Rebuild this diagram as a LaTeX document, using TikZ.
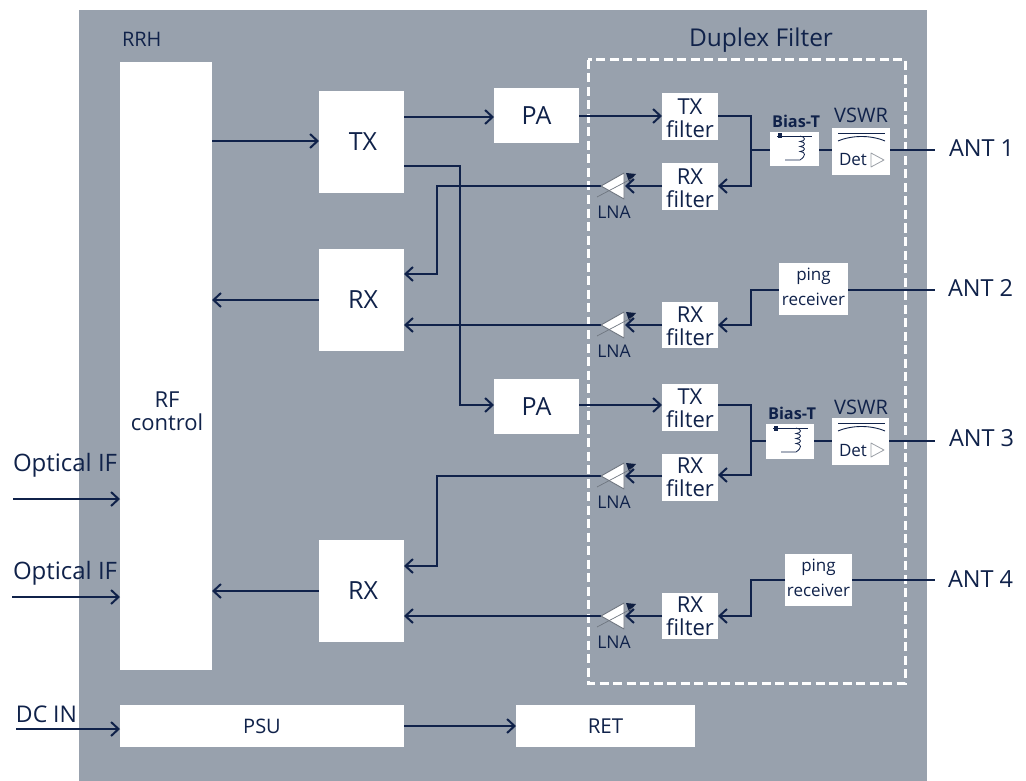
\documentclass[tikz,border=0pt]{standalone}
\usepackage{fontspec}
\setmainfont{Open Sans}
\usetikzlibrary{arrows.meta,calc}
\definecolor{bg}{HTML}{98A1AD}
\definecolor{ink}{HTML}{10224A}
\definecolor{lnagray}{HTML}{6F7680}
\tikzset{
  boxnode/.style={fill=white,draw=none,inner sep=0pt,outer sep=0pt,align=center,text=ink},
  lab/.style={text=ink,inner sep=0pt,outer sep=0pt,align=center},
  conn/.style={draw=ink,line width=2pt,line join=miter},
  arr/.style={conn,-{Straight Barb[length=7.5pt,width=14pt,line width=2pt]}},
  big/.style={font=\fontsize{25}{28}\selectfont},
  mid/.style={font=\fontsize{22}{23}\selectfont},
  sml/.style={font=\fontsize{17.5}{20}\selectfont},
  ping/.style={font=\fontsize{17}{25}\selectfont},
  ext/.style={lab,anchor=west,font=\fontsize{23.5}{26}\selectfont},
  lnabody/.style={fill=white,draw=lnagray,line width=0.9pt,line join=round},
}
\newcommand{\bx}[7][]{\node[boxnode,#1,minimum width={(#4-#2)*1pt},minimum height={(#5-#3)*1pt}] (#6) at ({(#2+#4)/2},{(#3+#5)/2}) {#7};}
% LNA symbol: tip at (x,y)
\newcommand{\lna}[3]{%
  \node[lab,sml] (#3) at ({#1+13},{#2+26}) {LNA};
  \fill[ink!85!black] ({#1+25},{#2-13}) -- ({#1+35},{#2-12}) -- ({#1+28},{#2-4}) -- cycle;
  \draw[lnabody] (#1,#2) -- ({#1+23},{#2-13}) -- ({#1+23},{#2+13}) -- cycle;
  \draw[lnagray,line width=0.7pt] ({#1-4},{#2+11}) -- ({#1+32},{#2-8});
}
% Bias-T symbol: box top-left (x,y)
\newcommand{\biast}[2]{%
  \draw[ink,line width=0.9pt] ({#1+7},{#2+4}) -- ({#1+42},{#2+4});
  \fill[ink] ({#1+8},{#2+1.5}) rectangle ({#1+12},{#2+6.5});
  \draw[ink,line width=0.8pt] ({#1+30},{#2+4}) .. controls ({#1+36},{#2+5}) and ({#1+36},{#2+9}) .. ({#1+30},{#2+9.5})
     .. controls ({#1+36},{#2+10}) and ({#1+36},{#2+14}) .. ({#1+30},{#2+14.5})
     .. controls ({#1+36},{#2+15}) and ({#1+36},{#2+19}) .. ({#1+30},{#2+19.5})
     .. controls ({#1+36},{#2+20}) and ({#1+36},{#2+24}) .. ({#1+30},{#2+28}) -- ({#1+15},{#2+28});
}
% VSWR symbol: box top-left (x,y)
\newcommand{\vswr}[2]{%
  \draw[ink,line width=0.9pt] ({#1+6},{#2+5.5}) -- ({#1+53},{#2+5.5});
  \draw[ink,line width=0.9pt] ({#1+6},{#2+13}) .. controls ({#1+20},{#2+7}) and ({#1+39},{#2+7}) .. ({#1+53},{#2+13});
  \draw[lnagray!70!white,line width=0.8pt,line join=round] ({#1+39},{#2+25}) -- ({#1+52},{#2+32}) -- ({#1+39},{#2+39}) -- cycle;
}
\begin{document}
\begin{tikzpicture}[x=1pt,y=-1pt]
\useasboundingbox (0,0) rectangle (1026,781);
\fill[white] (0,0) rectangle (1026,781);
\fill[bg] (79,10) rectangle (927,781);

\draw[white,line width=3pt,dash pattern=on 9pt off 4.5pt] (588,60) rectangle (905,683);

\node[lab,font=\fontsize{20}{23}\selectfont,anchor=west] (rrh) at (122,39) {RRH};
\node[lab,font=\fontsize{24.5}{28}\selectfont] (dup) at (761,40) {Duplex Filter};

\bx{120}{62}{212}{670}{rf}{}
\node[lab,mid] (rflab) at (167,411) {RF\\control};
\bx[big]{319}{91}{404}{193}{tx}{\hspace*{3pt}TX}
\bx[big]{319}{249}{404}{351}{rxa}{\hspace*{3pt}RX}
\bx[big]{319}{540}{404}{642}{rxb}{\hspace*{3pt}RX}
\bx[big]{494}{88}{579}{143}{paa}{PA}
\bx[big]{494}{379}{579}{434}{pab}{PA}

\bx{662}{93}{718}{140}{txfa}{}
\bx{662}{163}{718}{210}{rxfa}{}
\bx{662}{302}{718}{348}{rxfb}{}
\bx{662}{384}{718}{431}{txfb}{}
\bx{662}{454}{718}{501}{rxfc}{}
\bx{662}{593}{718}{639}{rxfd}{}
\node[lab,mid] (txfal) at (690,118.5) {TX\\filter};
\node[lab,mid] (rxfal) at (690,188) {RX\\filter};
\node[lab,mid] (rxfbl) at (690,326) {RX\\filter};
\node[lab,mid] (txfbl) at (690,408.5) {TX\\filter};
\node[lab,mid] (rxfcl) at (690,477) {RX\\filter};
\node[lab,mid] (rxfdl) at (690,616) {RX\\filter};

\bx{770}{132}{819}{166}{bta}{}
\bx{766}{424}{814}{459}{btb}{}
\bx{832}{128}{890}{175}{vsa}{}
\bx{832}{418}{889}{465}{vsb}{}
\bx{779}{263}{848}{315}{pra}{}
\bx{785}{554}{852}{606}{prb}{}
\node[lab,ping] (pral) at (813.5,287) {ping\\receiver};
\node[lab,ping] (prbl) at (818.5,578) {ping\\receiver};

\bx[font=\fontsize{20}{24}\selectfont]{120}{705}{404}{747}{psu}{PSU}
\bx[font=\fontsize{20.5}{24}\selectfont]{516}{705}{695}{747}{ret}{RET}

\node[lab,font=\bfseries\fontsize{16.3}{19}\selectfont] (btla) at (796,121) {Bias-T};
\node[lab,font=\bfseries\fontsize{16.3}{19}\selectfont] (btlb) at (792,413) {Bias-T};
\node[lab,font=\fontsize{20}{23}\selectfont] (vsla) at (861,115) {VSWR};
\node[lab,font=\fontsize{20}{23}\selectfont] (vslb) at (861,407) {VSWR};
\node[lab,font=\fontsize{17}{20}\selectfont] (dta) at (853,160) {Det};
\node[lab,font=\fontsize{17}{20}\selectfont] (dtb) at (853,451) {Det};
\biast{770}{132}
\biast{766}{424}
\vswr{832}{128}
\vswr{832}{418}

\node[ext] (anta) at (949,148) {ANT 1};
\node[ext] (antb) at (948,288) {ANT 2};
\node[ext] (antc) at (949,438) {ANT 3};
\node[ext] (antd) at (948,579) {ANT 4};
\node[ext,font=\fontsize{24}{27}\selectfont] (opta) at (13,465) {Optical IF};
\node[ext,font=\fontsize{24}{27}\selectfont] (optb) at (13,573) {Optical IF};
\node[ext,font=\fontsize{23}{26}\selectfont] (dcin) at (16,714) {DC IN};

\coordinate (optsa) at (13,499);
\coordinate (optsb) at (12,597);
\coordinate (dcs) at (16,729);
\coordinate (enda) at (935,150);
\coordinate (endb) at (935,290);
\coordinate (endc) at (935,441);
\coordinate (endd) at (935,580);

% main signal path
\draw[arr] (rf.east |- 0,141) -- (tx.west |- 0,141);
\draw[arr] (tx.east |- 0,117) -- (paa.west |- 0,117);
\draw[arr] (paa.east |- 0,116) -- (txfa.west |- 0,116);
\draw[arr] (tx.east |- 0,166) -- (460,166) -- (460,405) -- (pab.west |- 0,405);
\draw[arr] (pab.east |- 0,405) -- (txfb.west |- 0,405);
\draw[arr] (rxa.west |- 0,300) -- (rf.east |- 0,300);
\draw[arr] (rxb.west |- 0,591) -- (rf.east |- 0,591);
\draw[arr] (psu.east |- 0,726) -- (ret.west |- 0,726);
\draw[arr] (optsa) -- (rf.west |- optsa);
\draw[arr] (optsb) -- (rf.west |- optsb);
\draw[arr] (dcs) -- (psu.west |- dcs);

% duplexer branches
\draw[arr] (txfa.east |- 0,116) -- (751,116) -- (751,186) -- (rxfa.east |- 0,186);
\draw[conn] (751,150) -- (bta.west |- 0,150);
\draw[conn] (bta.east |- 0,150) -- (vsa.west |- 0,150);
\draw[conn] (vsa.east |- 0,150) -- (enda);

\draw[arr] (txfb.east |- 0,405) -- (751,405) -- (751,475) -- (rxfc.east |- 0,475);
\draw[conn] (751,441) -- (btb.west |- 0,441);
\draw[conn] (btb.east |- 0,441) -- (vsb.west |- 0,441);
\draw[conn] (vsb.east |- 0,441) -- (endc);

\draw[arr] (pra.west |- 0,290) -- (751,290) -- (751,325) -- (rxfb.east |- 0,325);
\draw[conn] (pra.east |- 0,290) -- (endb);
\draw[arr] (prb.west |- 0,580) -- (751,580) -- (751,616) -- (rxfd.east |- 0,616);
\draw[conn] (prb.east |- 0,580) -- (endd);

% LNA outputs towards RX
\draw[arr] (601,186) -- (437,186) -- (437,274) -- (rxa.east |- 0,274);
\draw[arr] (601,325) -- (rxa.east |- 0,325);
\draw[arr] (601,476) -- (437,476) -- (437,566) -- (rxb.east |- 0,566);
\draw[arr] (601,616) -- (rxb.east |- 0,616);

% LNAs
\lna{601}{186}{lnaa}
\lna{601}{325}{lnab}
\lna{601}{476}{lnac}
\lna{601}{616}{lnad}
\draw[arr] (rxfa.west |- 0,186) -- (625,186);
\draw[arr] (rxfb.west |- 0,325) -- (625,325);
\draw[arr] (rxfc.west |- 0,476) -- (625,476);
\draw[arr] (rxfd.west |- 0,616) -- (625,616);
\end{tikzpicture}
\end{document}
